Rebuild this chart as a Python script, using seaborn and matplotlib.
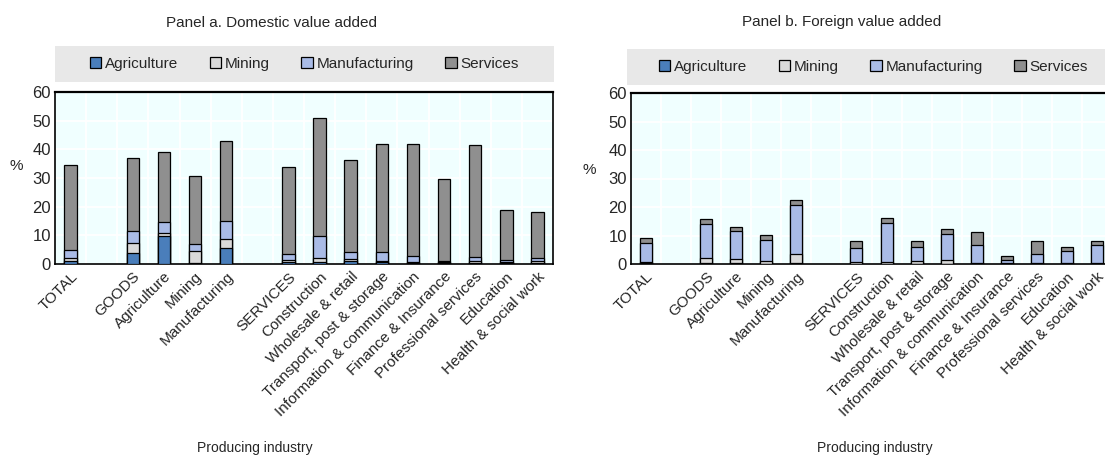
import numpy as np
import pandas as pd
import matplotlib
matplotlib.use("Agg")
import matplotlib.pyplot as plt
from matplotlib.patches import Patch, Rectangle
import seaborn as sns

sns.set_style("white")
plt.rcParams["font.family"] = ["Liberation Sans", "DejaVu Sans"]

# Producing industries (two blank slots separate the groups)
industries = ["TOTAL", "GOODS", "Agriculture", "Mining", "Manufacturing",
              "SERVICES", "Construction", "Wholesale & retail",
              "Transport, post & storage", "Information & communication",
              "Finance & Insurance", "Professional services", "Education",
              "Health & social work"]
slot_order = ["TOTAL", " ", "GOODS", "Agriculture", "Mining", "Manufacturing",
              "  ", "SERVICES", "Construction", "Wholesale & retail",
              "Transport, post & storage", "Information & communication",
              "Finance & Insurance", "Professional services", "Education",
              "Health & social work"]

sources = ["Agriculture", "Mining", "Manufacturing", "Services"]

# Panel a: domestic value added by source industry (%)
dom_agriculture   = [1.2, 3.8, 9.7, 0.2, 5.5, 0.7, 0.7, 1.0, 0.6, 0.3, 0.3, 0.3, 0.3, 0.5]
dom_mining        = [1.0, 3.5, 1.0, 4.3, 3.1, 0.7, 1.5, 0.9, 0.6, 0.5, 0.3, 0.6, 0.5, 0.5]
dom_manufacturing = [2.7, 4.2, 3.8, 2.6, 6.5, 2.0, 7.7, 2.4, 2.9, 1.9, 0.3, 1.4, 0.7, 1.2]
dom_services      = [29.6, 25.6, 24.5, 23.7, 27.8, 30.5, 41.2, 32.1, 37.8, 39.3, 28.6, 39.1, 17.2, 15.8]

# Panel b: foreign value added by source industry (%)
for_agriculture   = [0.2, 0.3, 0.2, 0.1, 0.2, 0.1, 0.1, 0.1, 0.1, 0.1, 0.1, 0.1, 0.1, 0.1]
for_mining        = [0.4, 1.7, 1.6, 0.8, 3.4, 0.5, 0.5, 1.1, 1.3, 0.2, 0.4, 0.3, 0.2, 0.2]
for_manufacturing = [6.7, 11.9, 9.7, 7.4, 17.2, 5.1, 13.7, 4.8, 9.0, 6.3, 0.9, 3.0, 4.3, 6.5]
for_services      = [1.8, 1.8, 1.4, 1.8, 1.8, 2.2, 2.0, 1.9, 1.9, 4.5, 1.5, 4.5, 1.5, 1.1]

colors = {"Agriculture": "#4A7EBB", "Mining": "#D9D9D9",
          "Manufacturing": "#A9BBE6", "Services": "#8F8F8F"}

W, H = 1105, 458
fig = plt.figure(figsize=(W / 100, H / 100), dpi=100)


def fx(px):
    return px / W


def fy(py):
    return 1 - py / H


def draw_panel(ax, layers):
    df = pd.DataFrame({"industry": industries})
    for name, vals in zip(sources, layers):
        df[name] = vals
    cum = df[sources].cumsum(axis=1)
    # draw cumulative totals from the top segment down so they read as stacks
    for name in reversed(sources):
        sns.barplot(x=df["industry"], y=cum[name], order=slot_order,
                    color=colors[name], saturation=1, width=0.4,
                    edgecolor="black", linewidth=0.9, ax=ax, zorder=3)
    ax.set_facecolor("#F0FFFF")
    ax.set_xlim(-0.5, len(slot_order) - 0.5)
    ax.set_ylim(0, 60)
    ax.set_yticks(np.arange(0, 61, 10))
    ax.set_xticks(np.arange(len(slot_order)))
    ax.set_xticklabels([s.strip() for s in slot_order], rotation=45,
                       ha="right", va="top", rotation_mode="anchor",
                       fontsize=11)
    ax.set_xticks(np.arange(0.5, len(slot_order) - 0.5), minor=True)
    ax.tick_params(axis="x", which="major", length=0, pad=4)
    ax.tick_params(axis="x", which="minor", direction="in", length=4,
                   width=1, color="black")
    ax.tick_params(axis="y", direction="in", length=4, width=1,
                   color="black", labelsize=12, pad=3)
    ax.grid(False)
    ax.grid(which="minor", axis="x", color="white", linewidth=1.3, zorder=0)
    ax.grid(which="major", axis="y", color="white", linewidth=1.3, zorder=0)
    ax.set_axisbelow(True)
    ax.set_xlabel("")
    ax.set_ylabel("")
    for side, sp in ax.spines.items():
        sp.set_visible(True)
        sp.set_color("black")
        sp.set_linewidth(1.2)
    ax.spines["top"].set_linewidth(1.6)


def draw_legend(x0, x1, y0, y1):
    fig.patches.append(Rectangle((fx(x0), fy(y1)), fx(x1) - fx(x0),
                                 fy(y0) - fy(y1), transform=fig.transFigure,
                                 facecolor="#E8E8E8", edgecolor="none",
                                 zorder=0))
    handles = [Patch(facecolor=colors[s], edgecolor="black", linewidth=0.9,
                     label=s) for s in sources]
    fig.legend(handles=handles, loc="center",
               bbox_to_anchor=((fx(x0) + fx(x1)) / 2, (fy(y0) + fy(y1)) / 2),
               ncol=4, frameon=False, fontsize=11, handlelength=0.75,
               handleheight=0.75, handletextpad=0.25, columnspacing=2.05)


ax1 = fig.add_axes([fx(55), fy(264), fx(553) - fx(55), fy(92) - fy(264)])
draw_panel(ax1, [dom_agriculture, dom_mining, dom_manufacturing, dom_services])
ax2 = fig.add_axes([fx(631), fy(264), fx(1112) - fx(631), fy(93) - fy(264)])
draw_panel(ax2, [for_agriculture, for_mining, for_manufacturing, for_services])

draw_legend(55, 554, 46, 82)
draw_legend(627, 1120, 49, 85)

fig.text(fx(271), fy(23), "Panel a. Domestic value added", ha="center",
         va="center", fontsize=11)
fig.text(fx(842), fy(22), "Panel b. Foreign value added", ha="center",
         va="center", fontsize=11)
fig.text(fx(16), fy(166), "%", ha="center", va="center", fontsize=11)
fig.text(fx(589), fy(170), "%", ha="center", va="center", fontsize=11)
fig.text(fx(255), fy(448), "Producing industry", ha="center", va="center",
         fontsize=10)
fig.text(fx(875), fy(448), "Producing industry", ha="center", va="center",
         fontsize=10)

fig.savefig("out.png", dpi=100)
